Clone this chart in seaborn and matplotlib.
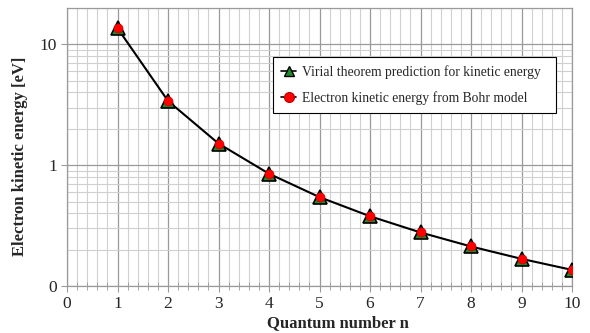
import matplotlib
matplotlib.use("Agg")
import matplotlib.pyplot as plt
import seaborn as sns
import pandas as pd
from matplotlib.ticker import FixedLocator, FixedFormatter, MultipleLocator, LogLocator, NullFormatter

n_values = [1, 2, 3, 4, 5, 6, 7, 8, 9, 10]
virial_energy = [13.6, 3.4, 1.511, 0.85, 0.544, 0.378, 0.2776, 0.2125, 0.1679, 0.136]
bohr_energy = [13.6, 3.4, 1.511, 0.85, 0.544, 0.378, 0.2776, 0.2125, 0.1679, 0.136]
y_ticks = [0.1, 1, 10]
y_tick_labels = ["0", "1", "10"]
x_ticks = [0, 1, 2, 3, 4, 5, 6, 7, 8, 9, 10]

sns.set_style("white")
plt.rcParams['font.family'] = ['Liberation Serif', 'DejaVu Serif']

df = pd.DataFrame({"n": n_values, "virial": virial_energy, "bohr": bohr_energy})

fig = plt.figure(figsize=(5.9, 3.33), dpi=100)
ax = fig.add_axes([0.1136, 0.141, 0.856, 0.835])
ax.set_yscale("log")
ax.set_xlim(0, 10)
ax.set_ylim(0.1, 20)

# gridlines
ax.xaxis.set_major_locator(FixedLocator(x_ticks))
ax.xaxis.set_minor_locator(MultipleLocator(0.2))
ax.yaxis.set_major_locator(FixedLocator(y_ticks))
ax.yaxis.set_major_formatter(FixedFormatter(y_tick_labels))
ax.yaxis.set_minor_locator(LogLocator(base=10, subs=range(2, 10)))
ax.yaxis.set_minor_formatter(NullFormatter())
ax.grid(which="major", color="#9a9a9a", linewidth=0.9)
ax.grid(which="minor", color="#d0d0d0", linewidth=0.8)
ax.set_axisbelow(True)

sns.lineplot(data=df, x="n", y="bohr", ax=ax, color="black", linewidth=1.5, legend=False, zorder=3)
ax.plot(df["n"], df["virial"], linestyle="none", marker="^", markersize=9.5,
        markerfacecolor="#1e8a2a", markeredgecolor="black", markeredgewidth=1.2, zorder=4)
ax.plot(df["n"], df["bohr"], linestyle="none", marker="o", markersize=6.5,
        markerfacecolor="#ff0000", markeredgecolor="#cc0000", markeredgewidth=0.5, zorder=5)

# legend handles
h1, = ax.plot([], [], color="black", linewidth=1.2, marker="^", markersize=7,
              markerfacecolor="#1e8a2a", markeredgecolor="black")
h2, = ax.plot([], [], color="black", linewidth=1.2, marker="o", markersize=7,
              markerfacecolor="#ff0000", markeredgecolor="#cc0000")
leg = ax.legend([h1, h2], ["Virial theorem prediction for kinetic energy",
                           "Electron kinetic energy from Bohr model"],
                loc="upper left", bbox_to_anchor=(0.408, 0.824, 0.56, 0.0), mode="expand",
                fontsize=9.8,
                frameon=True, fancybox=False, edgecolor="black", framealpha=1,
                handlelength=1.1, labelspacing=0.9, borderpad=0.6, handletextpad=0.4,
                borderaxespad=0)
leg.get_frame().set_linewidth(0.8)

for s in ax.spines.values():
    s.set_color("#9a9a9a")
    s.set_linewidth(0.9)

ax.tick_params(axis="both", which="major", direction="out", length=4, color="#9a9a9a",
               labelsize=12.5, pad=3, left=True, bottom=True)
ax.tick_params(axis="x", which="minor", direction="inout", length=6, color="#9a9a9a", bottom=True)
ax.tick_params(axis="y", which="minor", length=0)

ax.set_xlabel("Quantum number n", fontsize=12, fontweight="bold")
ax.set_ylabel("Electron kinetic energy [eV]", fontsize=12, fontweight="bold")
ax.xaxis.set_label_coords(0.537, -0.105)
ax.yaxis.set_label_coords(-0.077, 0.465)

fig.savefig("out.png", dpi=100)
